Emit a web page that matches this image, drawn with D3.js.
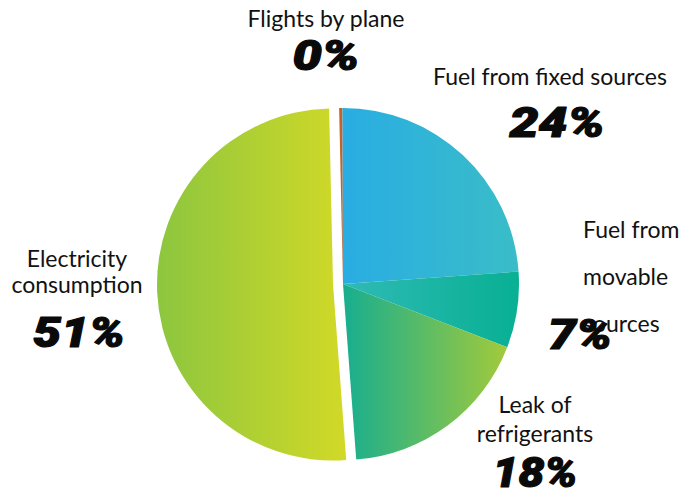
<!DOCTYPE html>
<html>
<head>
<meta charset="utf-8">
<script src="https://cdn.jsdelivr.net/npm/d3@7"></script>
<style>
  html, body { margin: 0; padding: 0; background: #ffffff; }
  svg { display: block; }
  .cat { font-family: Lato, "Open Sans", sans-serif; font-size: 23px; fill: #111; }
  .pct { font-family: Roboto, "DejaVu Sans", sans-serif; font-weight: 900; font-style: italic; font-size: 43px; fill: #0a0a0a; stroke: #0a0a0a; stroke-width: 1.2px; stroke-linejoin: round; }
</style>
</head>
<body>
<svg id="chart" width="683" height="492"></svg>
<script>
// Emission sources and their share of the total (%)
const categories = ["Flights by plane", "Fuel from fixed sources", "Fuel from movable sources", "Leak of refrigerants", "Electricity consumption"];
const values = [0.3, 24, 7, 18, 51];
const pctLabels = ["0%", "24%", "7%", "18%", "51%"];
// Label lines as they are broken on the chart
const labelLines = [["Flights by plane"], ["Fuel from fixed sources"], ["Fuel from", "movable", "sources"], ["Leak of", "refrigerants"], ["Electricity", "consumption"]];
// Horizontal gradient stops (left -> right) for each slice
const gradStart = ["#c4622a", "#29ade3", "#2fbab6", "#17ae8f", "#8cc63f"];
const gradEnd   = ["#c4622a", "#3abdc7", "#08b093", "#a2ca3b", "#d2d927"];

const width = 683, height = 492;
const cx = 343, cy = 284, radius = 176;
const explodeIdx = 4, explodeDist = 10;

const svg = d3.select("#chart");
const defs = svg.append("defs");

const start = -0.022;
const pie = d3.pie().sort(null).value(d => d).startAngle(start).endAngle(start + 2 * Math.PI);
const arcs = pie(values);
const arc = d3.arc().innerRadius(0).outerRadius(radius);

const g = svg.append("g").attr("transform", `translate(${cx},${cy})`);

arcs.forEach((a, i) => {
  let dx = 0, dy = 0;
  if (i === explodeIdx) {
    const mid = (a.startAngle + a.endAngle) / 2;
    dx = Math.sin(mid) * explodeDist;
    dy = -Math.cos(mid) * explodeDist;
  }
  // horizontal extent of the slice, for its gradient
  const path = g.append("path").attr("d", arc(a)).attr("transform", `translate(${dx},${dy})`);
  const bb = path.node().getBBox();
  const gid = "grad" + i;
  const lg = defs.append("linearGradient").attr("id", gid)
    .attr("gradientUnits", "userSpaceOnUse")
    .attr("x1", bb.x).attr("x2", bb.x + bb.width).attr("y1", 0).attr("y2", 0);
  lg.append("stop").attr("offset", 0).attr("stop-color", gradStart[i]);
  lg.append("stop").attr("offset", 1).attr("stop-color", gradEnd[i]);
  path.attr("fill", `url(#${gid})`);
});

// Label anchors: [x, first baseline, line gap, anchor, pct x, pct baseline, pct width]
const labelPos = [
  [326, 27, 0, "middle", 326, 70, 67],
  [550, 85, 0, "middle", 557, 137, 95],
  [583, 238, 47, "start", 580, 349, 64],
  [535, 413, 29, "middle", 535, 487, 85],
  [77, 267, 26, "middle", 79, 347, 92]
];

categories.forEach((c, i) => {
  const p = labelPos[i];
  const t = svg.append("text").attr("class", "cat").attr("text-anchor", p[3]);
  labelLines[i].forEach((line, k) => {
    t.append("tspan").attr("x", p[0]).attr("y", p[1] + k * p[2]).text(line);
  });
});

pctLabels.forEach((s, i) => {
  const p = labelPos[i];
  svg.append("text").attr("class", "pct").attr("text-anchor", "middle")
    .attr("x", p[4]).attr("y", p[5])
    .attr("textLength", p[6]).attr("lengthAdjust", "spacingAndGlyphs")
    .text(s);
});
</script>
</body>
</html>
